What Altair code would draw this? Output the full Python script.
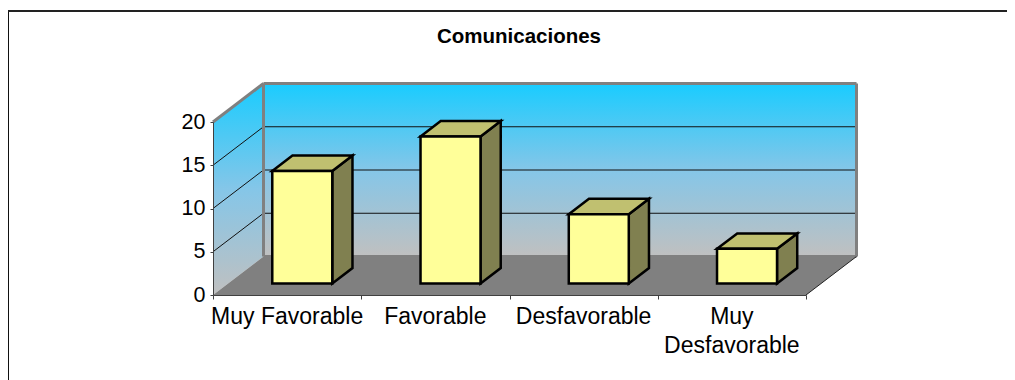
import altair as alt
import pandas as pd

categories = ["Muy Favorable", "Favorable", "Desfavorable", "Muy\nDesfavorable"]
values = [13, 17, 8, 4]
axis_ticks = [0, 5, 10, 15, 20]
chart_title = "Comunicaciones"

# Oblique projection: depth 0 = front plane, depth 1 = back wall, in data units
DX = 50.5 / 148.25
DY = 38.5 / 8.65
N = len(categories)
TOP = 20
HALF = 30 / 148.25
D0, D1 = 0.3, 0.7


def px(u, d):
    return u + d * DX


def py(v, d):
    return v + d * DY


FONT = "Liberation Sans"
xs = alt.Scale(domain=[0, 4], range=[0, 593], nice=False, zero=False)
ys = alt.Scale(domain=[0, 20], range=[211, 38], nice=False, zero=False)
x_axis = alt.Axis(
    values=list(range(N + 1)), labels=False, grid=False, domain=True, domainColor="#404040",
    tickColor="#404040", tickSize=4, zindex=1, title=None)
y_axis = alt.Axis(
    values=axis_ticks, grid=False, domain=True, domainColor="#404040", tickColor="#404040",
    tickSize=3, labelFont=FONT, labelFontSize=21.5, labelColor="black", labelPadding=5, zindex=1, title=None)
X = lambda f="x": alt.X(f"{f}:Q", scale=xs, axis=x_axis)
Y = lambda f="y": alt.Y(f"{f}:Q", scale=ys, axis=y_axis)

wall_grad = alt.Gradient(
    gradient="linear", x1=0, x2=0, y1=0, y2=1,
    stops=[alt.GradientStop(color="#19CCFF", offset=0),
           alt.GradientStop(color="#85C6E8", offset=0.5),
           alt.GradientStop(color="#C0C0C0", offset=1)],
)

# back wall
back = alt.Chart(pd.DataFrame([{"x": px(0, 1), "x2": px(N, 1), "y": py(0, 1), "y2": py(TOP, 1)}])).mark_rect(
    fill=wall_grad).encode(x=X(), x2="x2:Q", y=Y(), y2="y2:Q")

# left wall
left_df = pd.DataFrame([{"x": px(0, d), "y": py(0, d), "y2": py(TOP, d)} for d in (0, 1)])
left = alt.Chart(left_df).mark_area(fill=wall_grad).encode(x=X(), y=Y(), y2="y2:Q")

# floor
floor_df = pd.DataFrame([{"y": py(0, d), "x": px(0, d), "x2": px(N, d)} for d in (0, 1)])
floor = alt.Chart(floor_df).mark_area(orient="horizontal", fill="#808080").encode(y=Y(), x=X(), x2="x2:Q")

# gridlines
grid_vals = [v for v in axis_ticks if 0 < v < TOP]
grid_left = alt.Chart(pd.DataFrame([{"x": px(0, 0), "x2": px(0, 1), "y": py(v, 0), "y2": py(v, 1)} for v in grid_vals])).mark_rule(
    color="#111111", strokeWidth=1).encode(x=X(), x2="x2:Q", y=Y(), y2="y2:Q")
grid_back = alt.Chart(pd.DataFrame([{"x": px(0, 1), "x2": px(N, 1), "y": py(v, 1), "y2": py(v, 1)} for v in grid_vals])).mark_rule(
    color="#111111", strokeWidth=1).encode(x=X(), x2="x2:Q", y=Y(), y2="y2:Q")

# grey wall edges
edges_df = pd.DataFrame([
    {"x": px(0, 0), "x2": px(0, 1), "y": py(TOP, 0), "y2": py(TOP, 1)},
    {"x": px(0, 1), "x2": px(N, 1), "y": py(TOP, 1), "y2": py(TOP, 1)},
    {"x": px(0, 1), "x2": px(0, 1), "y": py(0, 1), "y2": py(TOP, 1)},
    {"x": px(N, 1), "x2": px(N, 1), "y": py(0, 1), "y2": py(TOP, 1)},
    {"x": px(0, 1), "x2": px(N, 1), "y": py(0, 1), "y2": py(0, 1)},
])
edges = alt.Chart(edges_df).mark_rule(color="#808080", strokeWidth=3).encode(x=X(), x2="x2:Q", y=Y(), y2="y2:Q")

# thin floor edge
thin_df = pd.DataFrame([
    {"x": px(N, 0), "x2": px(N, 1), "y": py(0, 0), "y2": py(0, 1)},
])
thin = alt.Chart(thin_df).mark_rule(color="#222222", strokeWidth=1).encode(x=X(), x2="x2:Q", y=Y(), y2="y2:Q")

# bars
front_rows, side_rows, top_rows = [], [], []
for i, v in enumerate(values):
    c = i + 0.5
    a, b = c - HALF, c + HALF
    front_rows.append({"x": px(a, D0), "x2": px(b, D0), "y": py(0, D0), "y2": py(v, D0)})
    for d in (D0, D1):
        side_rows.append({"bar": i, "x": px(b, d), "y": py(0, d), "y2": py(v, d)})
        top_rows.append({"bar": i, "y": py(v, d), "x": px(a, d), "x2": px(b, d)})

STROKE = dict(stroke="black", strokeWidth=2.5, strokeJoin="miter")
side = alt.Chart(pd.DataFrame(side_rows)).mark_area(fill="#808050", **STROKE).encode(
    x=X(), y=Y(), y2="y2:Q", detail="bar:N")
topf = alt.Chart(pd.DataFrame(top_rows)).mark_area(orient="horizontal", fill="#C0C070", **STROKE).encode(
    y=Y(), x=X(), x2="x2:Q", detail="bar:N")
front = alt.Chart(pd.DataFrame(front_rows)).mark_rect(fill="#FFFF99", **STROKE).encode(
    x=X(), x2="x2:Q", y=Y(), y2="y2:Q")

# category labels
labels = alt.Chart(pd.DataFrame({"x": [i + 0.5 for i in range(N)], "t": categories})).mark_text(
    font=FONT, fontSize=23, color="black", baseline="top", align="center", lineBreak="\n",
    lineHeight=29, dy=11,
).encode(x=X(), y=alt.value(211), text="t:N")

# title
title_mark = alt.Chart(pd.DataFrame({"t": [chart_title]})).mark_text(
    font=FONT, fontSize=20.5, fontWeight="bold", color="black", baseline="middle", align="center",
).encode(x=alt.value(306), y=alt.value(-47), text="t:N")

# outer frame
frame_left = alt.Chart(pd.DataFrame({"a": [0]})).mark_rule(color="#111111", strokeWidth=1).encode(
    x=alt.value(-204.5), y=alt.value(-74), y2=alt.value(296))
frame_top = alt.Chart(pd.DataFrame({"a": [0]})).mark_rule(color="#222222", strokeWidth=2).encode(
    y=alt.value(-73), x=alt.value(-205), x2=alt.value(794))

chart = alt.layer(
    frame_left, frame_top, back, left, floor, grid_left, grid_back, edges, thin, side, topf, front, labels, title_mark
).properties(
    width=644, height=211,
    padding={"left": 205, "right": 150, "top": 76, "bottom": 85},
    autosize=alt.AutoSizeParams(type="none"),
).configure_view(stroke=None)

chart.save("out.html", embed_options={"renderer": "svg", "actions": False})
